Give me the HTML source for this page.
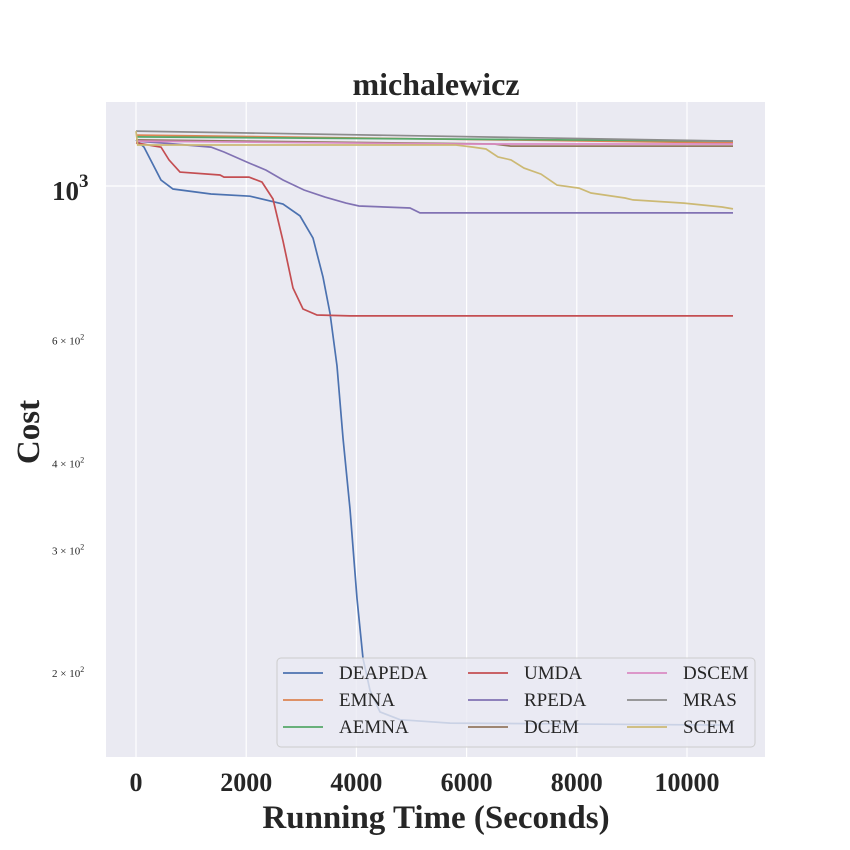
<!DOCTYPE html>
<html><head><meta charset="utf-8"><style>
body{margin:0;background:#fff;}
svg{display:block;font-family:"Liberation Serif",serif;}
</style></head><body>
<svg id="chart" width="850" height="850" viewBox="0 0 850 850"></svg>
<script>
const xTicks=[0,2000,4000,6000,8000,10000];
const yMinorTicks=[200,300,400,600];
const yMinorLabels=["2","3","4","6"];
const seriesNames=["DEAPEDA","EMNA","AEMNA","UMDA","RPEDA","DCEM","DSCEM","MRAS","SCEM"];
const seriesColors=["#4c72b0","#dd8452","#55a868","#c44e52","#8172b3","#937860","#da8bc3","#8c8c8c","#ccb974"];
const tDEAPEDA=[0,145,454,672,1361,2069,2668,2977,3213,3394,3521,3648,3757,3884,4011,4120,4247,4428,4791,5699,8421,10835];
const vDEAPEDA=[1164,1137,1020,990,974,967,942,906,842,740,657,552,435,344,256,210,189,176,171.5,169.6,169,168.5];
const tUMDA=[0,454,599,799,1525,1597,2051,2287,2486,2668,2849,3031,3285,3884,10835];
const vUMDA=[1153,1137,1090,1047,1037,1030,1030,1013,958,834,714,666,653,651,651];
const tRPEDA=[0,454,1361,1597,2051,2359,2668,3049,3430,3811,4047,4973,5154,10835];
const vRPEDA=[1160,1153,1137,1119,1079,1054,1020,987,964,945,936,930,915,915];
const tSCEM=[0,30,5808,6116,6352,6570,6806,7042,7350,7641,8040,8258,8875,9020,9945,10635,10835];
const vSCEM=[1199,1145,1145,1137,1130,1101,1090,1061,1040,1003,993,977,961,955,945,933,927];
const tEMNA=[0,10835];
const vEMNA=[1183,1153];
const tAEMNA=[0,10835];
const vAEMNA=[1176,1160];
const tMRAS=[0,10835];
const vMRAS=[1199,1160];
const tDSCEM=[0,5800,10835];
const vDSCEM=[1160,1149,1149];
const tDCEM=[0,6500,6800,10835];
const vDCEM=[1165,1149,1141,1141];
const seriesT=[tDEAPEDA,tEMNA,tAEMNA,tUMDA,tRPEDA,tDCEM,tDSCEM,tMRAS,tSCEM];
const seriesV=[vDEAPEDA,vEMNA,vAEMNA,vUMDA,vRPEDA,vDCEM,vDSCEM,vMRAS,vSCEM];
const drawOrder=[0,1,2,3,4,5,6,7,8];

const PL=106,PR=765,PT=102,PB=757;
function X(t){return 136+t*0.0551;}
function Y(v){return 186+(3-Math.log10(v))*697;}
const NS="http://www.w3.org/2000/svg";
const svg=document.getElementById('chart');
function mk(tag,attrs,parent){const e=document.createElementNS(NS,tag);for(const k in attrs)e.setAttribute(k,attrs[k]);(parent||svg).appendChild(e);return e;}

const bg=mk('rect',{x:PL,y:PT,width:PR-PL,height:PB-PT,fill:'#eaeaf2'});


xTicks.forEach(t=>{
  const g=mk('line',{x1:X(t),x2:X(t),y1:PT,y2:PB,stroke:'#fff','stroke-width':1.2});
  
  
  const l=mk('text',{x:X(t),y:791,'text-anchor':'middle','font-size':26,'font-weight':'bold',fill:'#262626'});
  l.textContent=t;
  
  
});
const yg=mk('line',{x1:PL,x2:PR,y1:Y(1000),y2:Y(1000),stroke:'#fff','stroke-width':1.2});


const y3=mk('text',{x:52,y:Y(1000)+14,'font-size':27,'font-weight':'bold',fill:'#262626'});
y3.innerHTML='10<tspan dy="-13" font-size="19">3</tspan>';


yMinorTicks.forEach((v,i)=>{
  const l=mk('text',{x:52,y:Y(v)+4,'font-size':11,fill:'#262626'});
  l.innerHTML=yMinorLabels[i]+' × 10<tspan dy="-5" font-size="8">2</tspan>';
  
  
});
const clip=mk('clipPath',{id:'pc'});mk('rect',{x:PL,y:PT,width:PR-PL,height:PB-PT},clip);
drawOrder.forEach(i=>{
  const T=seriesT[i],V=seriesV[i];
  const d=T.map((t,k)=>(k?'L':'M')+X(t).toFixed(1)+','+Y(V[k]).toFixed(1)).join(' ');
  const p=mk('path',{d:d,fill:'none',stroke:seriesColors[i],'stroke-width':1.7,'clip-path':'url(#pc)'});
  
  
});
const lg=mk('g',{});


mk('rect',{x:277,y:658,width:478,height:89,rx:4,fill:'#eaeaf2','fill-opacity':0.8,stroke:'#cccccc','stroke-width':1},lg);
const colX=[283,468,627],rowY=[673,700,727];
seriesNames.forEach((n,i)=>{
  const c=Math.floor(i/3),r=i%3;
  const e=mk('g',{},lg);
  
  
  mk('line',{x1:colX[c],x2:colX[c]+40,y1:rowY[r],y2:rowY[r],stroke:seriesColors[i],'stroke-width':1.8},e);
  const t=mk('text',{x:colX[c]+56,y:rowY[r]+6,'font-size':19,fill:'#262626'},e);
  t.textContent=n;
});
const title=mk('text',{x:436,y:95,'text-anchor':'middle','font-size':32,'font-weight':'bold',fill:'#262626'});
title.textContent='michalewicz';


const xl=mk('text',{x:436,y:828,'text-anchor':'middle','font-size':33,'font-weight':'bold',fill:'#262626'});
xl.textContent='Running Time (Seconds)';


const yl=mk('text',{x:0,y:0,'text-anchor':'middle','font-size':33,'font-weight':'bold',fill:'#262626',transform:'translate(39,432) rotate(-90)'});
yl.textContent='Cost';


</script>
</body></html>
